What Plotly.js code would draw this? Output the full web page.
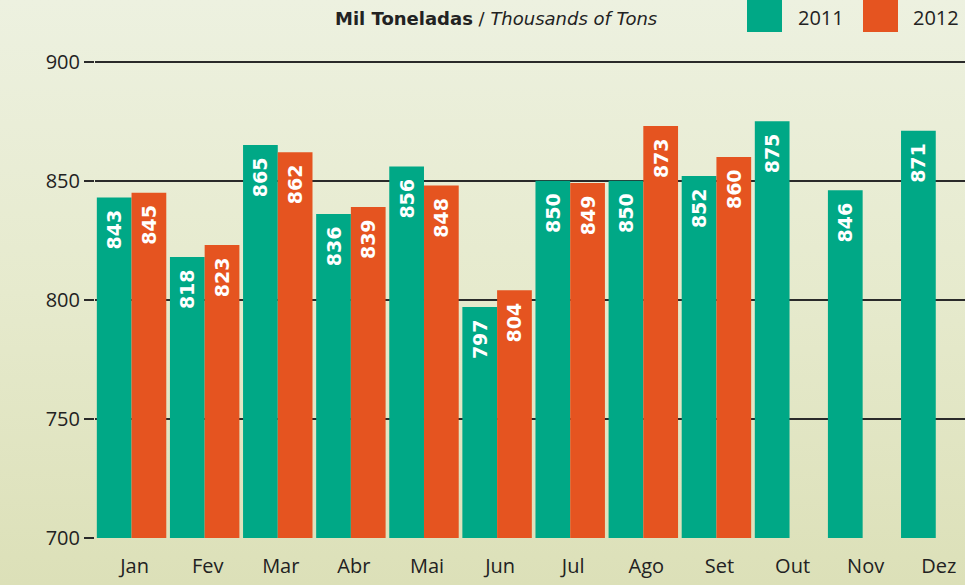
<!DOCTYPE html>
<html><head><meta charset="utf-8">
<script src="https://cdn.plot.ly/plotly-3.0.1.min.js"></script>
<style>
html,body{margin:0;padding:0;}
body{width:965px;height:585px;background:linear-gradient(to bottom,#edf1e0 0%,#e6eacd 50%,#dce0b8 100%);}
#chart{width:965px;height:585px;}
</style></head><body>
<div id="chart"></div>
<script>
const months = ["Jan","Fev","Mar","Abr","Mai","Jun","Jul","Ago","Set","Out","Nov","Dez"];
const seriesNames = ["2011","2012"];
const values2011 = [843,818,865,836,856,797,850,850,852,875,846,871];
const values2012 = [845,823,862,839,848,804,849,873,860,null,null,null];
const yTicks = [700,750,800,850,900];
const colors = ["#00a886","#e55420"];

function barTrace(name, vals, color){
  return {
    type:"bar", name:name, x:months, y:vals, marker:{color:color, line:{width:0}},
    text:vals.map(v=>v==null?"":String(v)+"\u2002"), textposition:"inside",
    insidetextanchor:"end", textangle:-90,
    textfont:{color:"#ffffff", size:19, family:"DejaVu Sans", weight:"bold"},
    hoverinfo:"skip", cliponaxis:true
  };
}
const data = [barTrace(seriesNames[0], values2011, colors[0]), barTrace(seriesNames[1], values2012, colors[1])];

const layout = {
  width:965, height:585,
  margin:{l:95, r:0, t:14, b:47},
  paper_bgcolor:"rgba(0,0,0,0)", plot_bgcolor:"rgba(0,0,0,0)",
  barmode:"group", bargap:0.05, bargroupgap:0,
  showlegend:false,
  font:{family:"Open Sans", color:"#222"},
  xaxis:{type:"category", range:[-0.5,11.4], showgrid:false, zeroline:false, showline:false,
    ticks:"", ticklabelstandoff:14, ticklabelshift:3, tickfont:{size:20, family:"Open Sans", color:"#222"}, fixedrange:true},
  yaxis:{range:[700,920], tickvals:yTicks, ticktext:yTicks.map(String), showgrid:true, gridcolor:"#2a2a2a", gridwidth:2,
    zeroline:false, showline:false, ticks:"outside", ticklen:10, tickwidth:2, tickcolor:"#2a2a2a",
    tickfont:{size:20, family:"Open Sans", color:"#222"}, fixedrange:true},
  shapes:[
    {type:"rect", xref:"paper", yref:"paper", x0:(747-95)/870, x1:(782-95)/870, y0:(585-47-32)/524, y1:(585-47)/524+0.05, fillcolor:colors[0], line:{width:0}},
    {type:"rect", xref:"paper", yref:"paper", x0:(863-95)/870, x1:(898-95)/870, y0:(585-47-32)/524, y1:(585-47)/524+0.05, fillcolor:colors[1], line:{width:0}}
  ],
  annotations:[
    {xref:"paper", yref:"paper", x:(496-95)/870, y:(585-47-18)/524, xanchor:"center", yanchor:"middle", showarrow:false,
     text:"<b>Mil Toneladas</b> / <i>Thousands of Tons</i>", font:{size:18, family:"DejaVu Sans", color:"#222"}},
    {xref:"paper", yref:"paper", x:(796-95)/870, y:(585-47-17)/524, xanchor:"left", yanchor:"middle", showarrow:false,
     text:seriesNames[0], font:{size:20, family:"Open Sans", color:"#222"}},
    {xref:"paper", yref:"paper", x:(911-95)/870, y:(585-47-17)/524, xanchor:"left", yanchor:"middle", showarrow:false,
     text:seriesNames[1], font:{size:20, family:"Open Sans", color:"#222"}}
  ]
};
Plotly.newPlot("chart", data, layout, {displayModeBar:false, staticPlot:true});
</script>
</body></html>
